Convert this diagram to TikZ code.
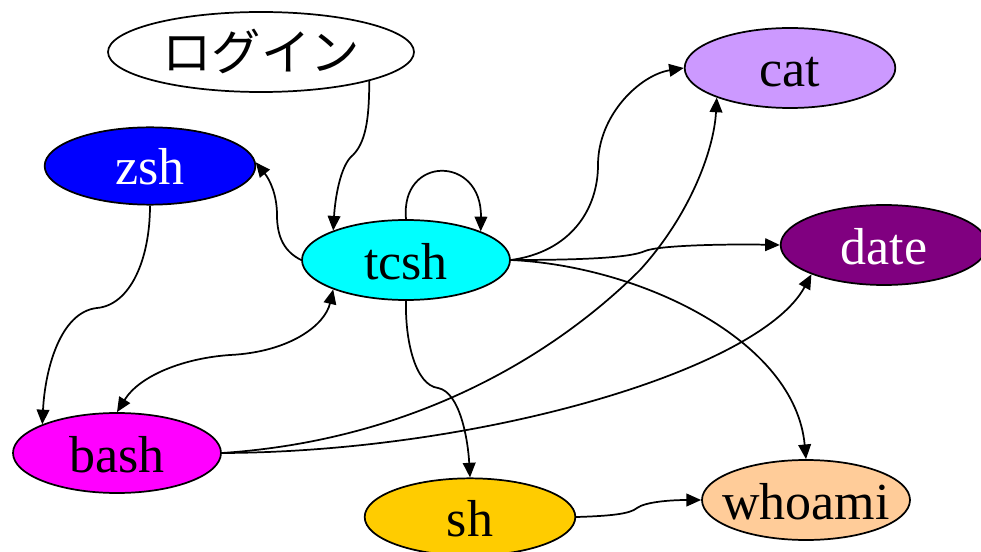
\documentclass[tikz,border=0pt]{standalone}
\usepackage{fontspec}
\setmainfont{Liberation Serif}
\newfontfamily\jpfont{Noto Sans CJK JP}
\usetikzlibrary{shapes.geometric,arrows.meta}
\definecolor{zshc}{HTML}{0000FF}
\definecolor{tcshc}{HTML}{00FFFF}
\definecolor{catc}{HTML}{CC99FF}
\definecolor{datec}{HTML}{800080}
\definecolor{bashc}{HTML}{FF00FF}
\definecolor{shc}{HTML}{FFCC00}
\definecolor{whoc}{HTML}{FFCC99}
\begin{document}
\begin{tikzpicture}[x=0.75pt,y=-0.75pt,
  nd/.style={ellipse,draw,line width=1.3pt,inner sep=0pt,minimum width=156pt,minimum height=60pt,
    font=\fontsize{39}{40}\selectfont,text height=28.5pt,text depth=0pt},
  edge/.style={line width=1.3pt,-{Triangle[length=11pt,width=9.5pt]}},
  edgeboth/.style={line width=1.3pt,{Triangle[length=11pt,width=9.5pt]}-{Triangle[length=11pt,width=9.5pt]}}]
\useasboundingbox (0,0) rectangle (981,552);
\clip (0,0) rectangle (981,552);
\fill[white] (0,0) rectangle (981,552);

\node[nd,fill=white,minimum width=229.5pt,font=\jpfont\fontsize{37}{40}\selectfont] (login) at (261,52) {\makebox[0pt]{ログイン}};
\node[nd,fill=zshc,text=white,minimum width=158pt,minimum height=58pt] (zsh) at (150,166) {zsh};
\node[nd,fill=tcshc] (tcsh) at (406,260) {tcsh};
\node[nd,fill=catc,minimum width=158pt] (cat) at (790,68) {cat};
\node[nd,fill=datec,text=white,minimum width=155pt] (date) at (884,245) {date};
\node[nd,fill=bashc] (bash) at (117,453) {bash};
\node[nd,fill=shc,minimum width=158pt,minimum height=58pt] (sh) at (470,517) {sh};
\node[nd,fill=whoc] (whoami) at (806,500) {\makebox[0pt]{whoami}};

\draw[edge] (login.-15) .. controls (369,110) and (368,140) .. (353,155) .. controls (340,165) and (335,200) .. (tcsh.158);
\draw[edge] (tcsh.west) .. controls (285,252) and (277,238) .. (277,215) .. controls (277,195) and (270,180) .. (zsh.2);
\draw[edge] (tcsh.north) .. controls (400,155) and (482,155) .. (tcsh.21);
\draw[edge] (tcsh.east) .. controls (570,252) and (598,210) .. (598,165) .. controls (598,115) and (640,75) .. (cat.west);
\draw[edge] (tcsh.east) .. controls (580,260) and (630,258) .. (645,251) .. controls (660,245) and (730,244) .. (date.west);
\draw[edge] (tcsh.east) .. controls (640,266) and (795,340) .. (whoami.north);
\draw[edge] (tcsh.south) .. controls (405,340) and (415,385) .. (438,388) .. controls (460,392) and (468,440) .. (sh.north);
\draw[edge] (zsh.south) .. controls (150,260) and (130,305) .. (97,308) .. controls (60,312) and (45,370) .. (bash.159);
\draw[edgeboth] (bash.north) .. controls (140,375) and (185,358) .. (230,355) .. controls (290,352) and (325,325) .. (tcsh.202);
\draw[edge] (bash.east) .. controls (420,440) and (560,350) .. (640,270) .. controls (690,215) and (714,150) .. (cat.202);
\draw[edge] (bash.east) .. controls (480,452) and (760,370) .. (date.202);
\draw[edge] (sh.east) .. controls (610,516) and (630,514) .. (637,508) .. controls (645,502) and (670,500) .. (whoami.west);
\end{tikzpicture}
\end{document}
